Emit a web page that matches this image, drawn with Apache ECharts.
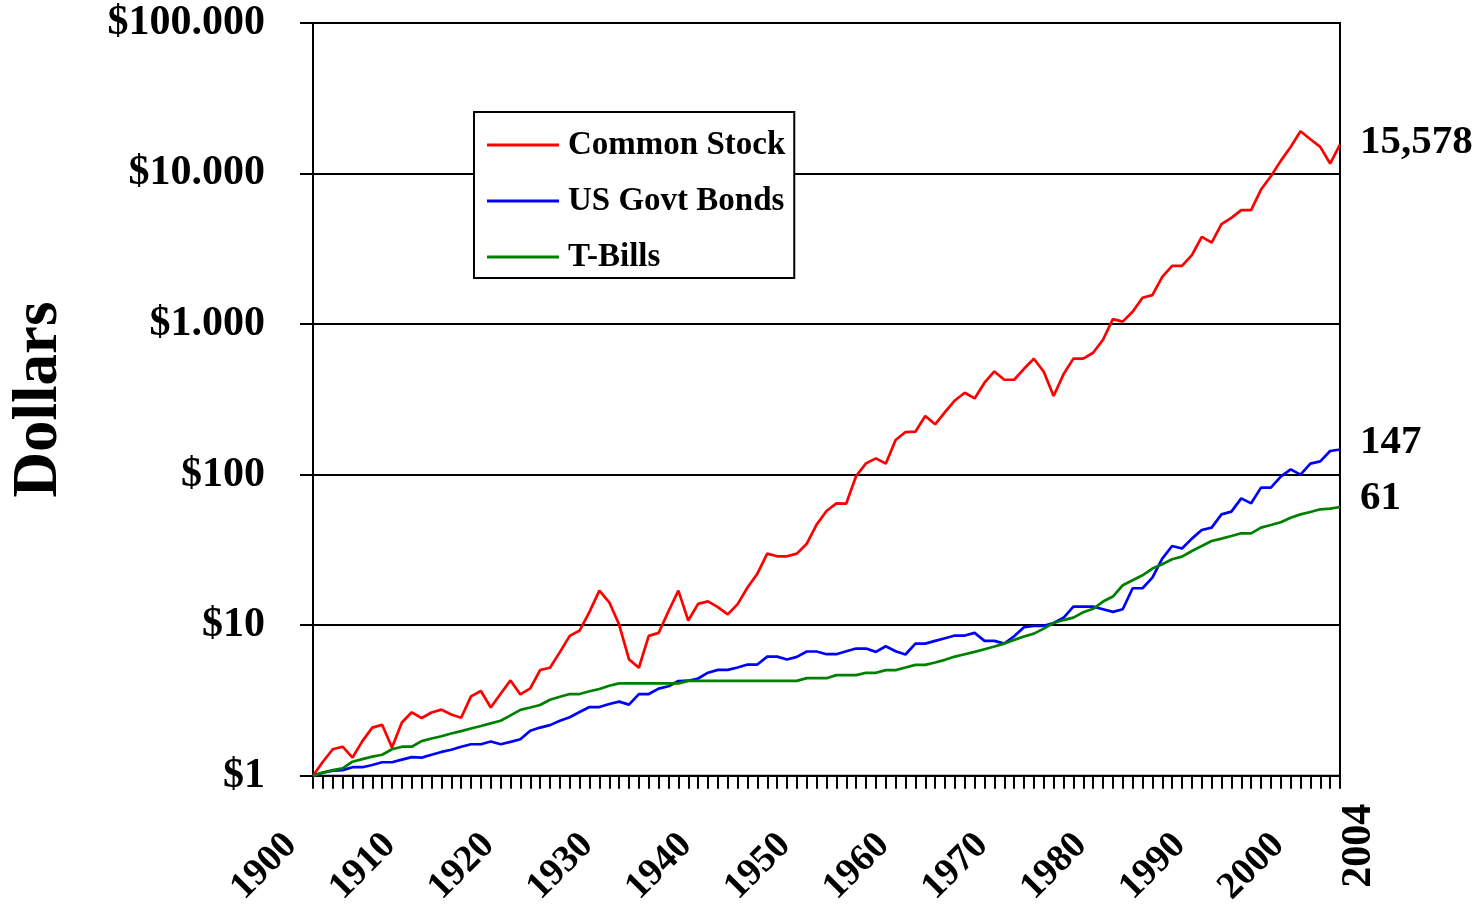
<!DOCTYPE html>
<html>
<head>
<meta charset="utf-8">
<script src="https://cdn.jsdelivr.net/npm/echarts@6/dist/echarts.min.js"></script>
<style>
  html, body { margin: 0; padding: 0; background: #ffffff; }
  #chart { width: 1484px; height: 909px; }
</style>
</head>
<body>
<div id="chart"></div>
<script>
// Growth of $1 invested at the start of 1900, 1900-2004 (log scale)
const years = Array.from({ length: 105 }, (_, i) => String(1900 + i));

const stockValues = [
  1.00, 1.24, 1.50, 1.56, 1.32, 1.70, 2.09, 2.18, 1.54, 2.26,
  2.64, 2.42, 2.63, 2.75, 2.55, 2.43, 3.37, 3.66, 2.84, 3.51,
  4.30, 3.47, 3.81, 5.04, 5.22, 6.63, 8.50, 9.22, 12.26, 16.97,
  14.20, 10.10, 5.93, 5.22, 8.50, 8.90, 12.38, 16.97, 10.74, 13.85,
  14.4, 13.2, 11.8, 13.8, 17.8, 22.0, 29.9, 28.7, 28.7, 29.9,
  34.8, 46.6, 57.4, 64.5, 64.3, 98.0, 118.9, 128.3, 118.3, 169.8,
  191.9, 192.9, 245, 216, 260, 311, 350, 321, 408, 485,
  427, 427, 505, 589, 483, 333, 464, 590, 590, 645,
  787, 1079, 1039, 1207, 1496, 1558, 2062, 2439, 2439, 2871,
  3798, 3483, 4610, 5080, 5711, 5711, 7831, 9600, 12138, 15031,
  19098, 16901, 15031, 11652, 15578
];

const bondValues = [
  1.00, 1.05, 1.08, 1.09, 1.14, 1.14, 1.18, 1.23, 1.23, 1.28,
  1.33, 1.32, 1.38, 1.44, 1.49, 1.56, 1.62, 1.62, 1.69, 1.62,
  1.68, 1.75, 1.99, 2.09, 2.17, 2.32, 2.45, 2.65, 2.86, 2.86,
  3.00, 3.11, 2.97, 3.49, 3.49, 3.79, 3.93, 4.26, 4.28, 4.43,
  4.84, 5.05, 5.05, 5.24, 5.48, 5.48, 6.19, 6.19, 5.92, 6.16,
  6.69, 6.69, 6.42, 6.42, 6.72, 7.00, 7.00, 6.65, 7.25, 6.72,
  6.39, 7.55, 7.55, 7.87, 8.20, 8.54, 8.54, 8.90, 7.87, 7.87,
  7.55, 8.45, 9.70, 9.90, 9.90, 10.35, 11.2, 13.3, 13.3, 13.3,
  12.77, 12.26, 12.77, 17.6, 17.6, 20.7, 27.7, 33.6, 32.3, 37.6,
  42.9, 44.5, 54.5, 56.8, 69.6, 64.5, 82.0, 82.0, 97.0, 108.5,
  100, 118.3, 122.6, 143.6, 147
];

const billValues = [
  1.00, 1.05, 1.09, 1.12, 1.24, 1.29, 1.34, 1.38, 1.50, 1.56,
  1.56, 1.70, 1.77, 1.83, 1.91, 1.98, 2.06, 2.14, 2.23, 2.32,
  2.52, 2.74, 2.84, 2.95, 3.20, 3.35, 3.49, 3.49, 3.64, 3.77,
  3.96, 4.11, 4.11, 4.11, 4.11, 4.11, 4.11, 4.11, 4.27, 4.27,
  4.27, 4.27, 4.27, 4.27, 4.27, 4.27, 4.27, 4.27, 4.27, 4.27,
  4.45, 4.45, 4.45, 4.66, 4.66, 4.66, 4.83, 4.83, 5.03, 5.03,
  5.24, 5.45, 5.45, 5.65, 5.89, 6.19, 6.42, 6.65, 6.93, 7.22,
  7.55, 7.99, 8.41, 8.80, 9.50, 10.35, 10.82, 11.24, 12.2, 12.85,
  14.36, 15.50, 18.43, 19.90, 21.47, 23.78, 25.41, 27.42, 28.56, 31.14,
  33.61, 36.28, 37.60, 39.16, 40.79, 40.79, 44.5, 46.3, 48.3, 51.8,
  54.5, 56.5, 58.9, 59.5, 61
];

const seriesNames = ['Common Stock', 'US Govt Bonds', 'T-Bills'];
const yTickLabels = ['$1', '$10', '$100', '$1.000', '$10.000', '$100.000'];
const decadeStep = 10;

const FONT = '"Liberation Serif", "Times New Roman", serif';
const BLACK = '#000000';

const chart = echarts.init(document.getElementById('chart'), null, { renderer: 'canvas' });

function endLabel(dy) {
  return {
    show: true,
    distance: 20,
    offset: [0, dy],
    fontFamily: FONT,
    fontWeight: 'bold',
    fontSize: 41,
    color: BLACK,
    formatter: p => Number(p.value).toLocaleString('en-US')
  };
}

function lineSeries(name, data, color, dy) {
  return {
    name: name,
    type: 'line',
    data: data,
    xAxisIndex: 0,
    symbol: 'none',
    smooth: false,
    color: color,
    itemStyle: { color: color },
    lineStyle: { color: color, width: 2.7 },
    endLabel: endLabel(dy),
    emphasis: { disabled: true }
  };
}

chart.setOption({
  animation: false,
  backgroundColor: '#ffffff',
  grid: {
    left: 310, right: 144, top: 23, bottom: 133,
    show: true, borderColor: BLACK, borderWidth: 2, backgroundColor: 'transparent'
  },
  legend: {
    data: seriesNames,
    orient: 'vertical',
    left: 474, top: 112,
    backgroundColor: '#ffffff',
    borderColor: BLACK, borderWidth: 2, borderRadius: 0,
    padding: [15, 9, 3, 13],
    itemGap: 20,
    itemWidth: 72, itemHeight: 3,
    icon: 'rect',
    selectedMode: false,
    textStyle: {
      fontFamily: FONT, fontWeight: 'bold', fontSize: 33, lineHeight: 36, color: BLACK,
      padding: [0, 0, 0, 4]
    }
  },
  xAxis: [
    {
      type: 'category',
      data: years,
      boundaryGap: false,
      position: 'bottom',
      axisLine: { lineStyle: { color: BLACK, width: 2 } },
      axisTick: { show: true, interval: 0, length: 13, lineStyle: { color: BLACK, width: 2 } },
      axisLabel: {
        rotate: 45,
        interval: (i) => i % decadeStep === 0 && i < years.length - 1,
        margin: 42,
        padding: [0, 31, 0, 0],
        fontFamily: FONT, fontWeight: 'bold', fontSize: 38, color: BLACK
      },
      splitLine: { show: false }
    },
    {
      type: 'category',
      data: years,
      boundaryGap: false,
      position: 'bottom',
      offset: 0,
      axisLine: { show: false },
      axisTick: { show: false },
      axisLabel: {
        rotate: 90,
        interval: (i) => i === years.length - 1,
        margin: 28,
        verticalAlign: 'top',
        lineHeight: 38,
        fontFamily: FONT, fontWeight: 'bold', fontSize: 42, color: BLACK
      },
      splitLine: { show: false }
    }
  ],
  yAxis: {
    type: 'log',
    logBase: 10,
    min: 1,
    max: 100000,
    name: 'Dollars',
    nameLocation: 'middle',
    nameRotate: 90,
    nameGap: 242,
    nameTextStyle: { fontFamily: FONT, fontWeight: 'bold', fontSize: 63, color: BLACK },
    axisLine: { show: true, lineStyle: { color: BLACK, width: 2 } },
    axisTick: { show: true, inside: false, length: 13, lineStyle: { color: BLACK, width: 2 } },
    axisLabel: {
      margin: 48,
      fontFamily: FONT, fontWeight: 'bold', fontSize: 42, color: BLACK,
      formatter: (v) => yTickLabels[Math.round(Math.log10(v))]
    },
    splitLine: { show: true, lineStyle: { color: BLACK, width: 2 } },
    minorTick: { show: false }
  },
  series: [
    lineSeries(seriesNames[0], stockValues, '#ff0000', -2),
    lineSeries(seriesNames[1], bondValues, '#0000ff', -7),
    lineSeries(seriesNames[2], billValues, '#008000', -9)
  ]
});
</script>
</body>
</html>
